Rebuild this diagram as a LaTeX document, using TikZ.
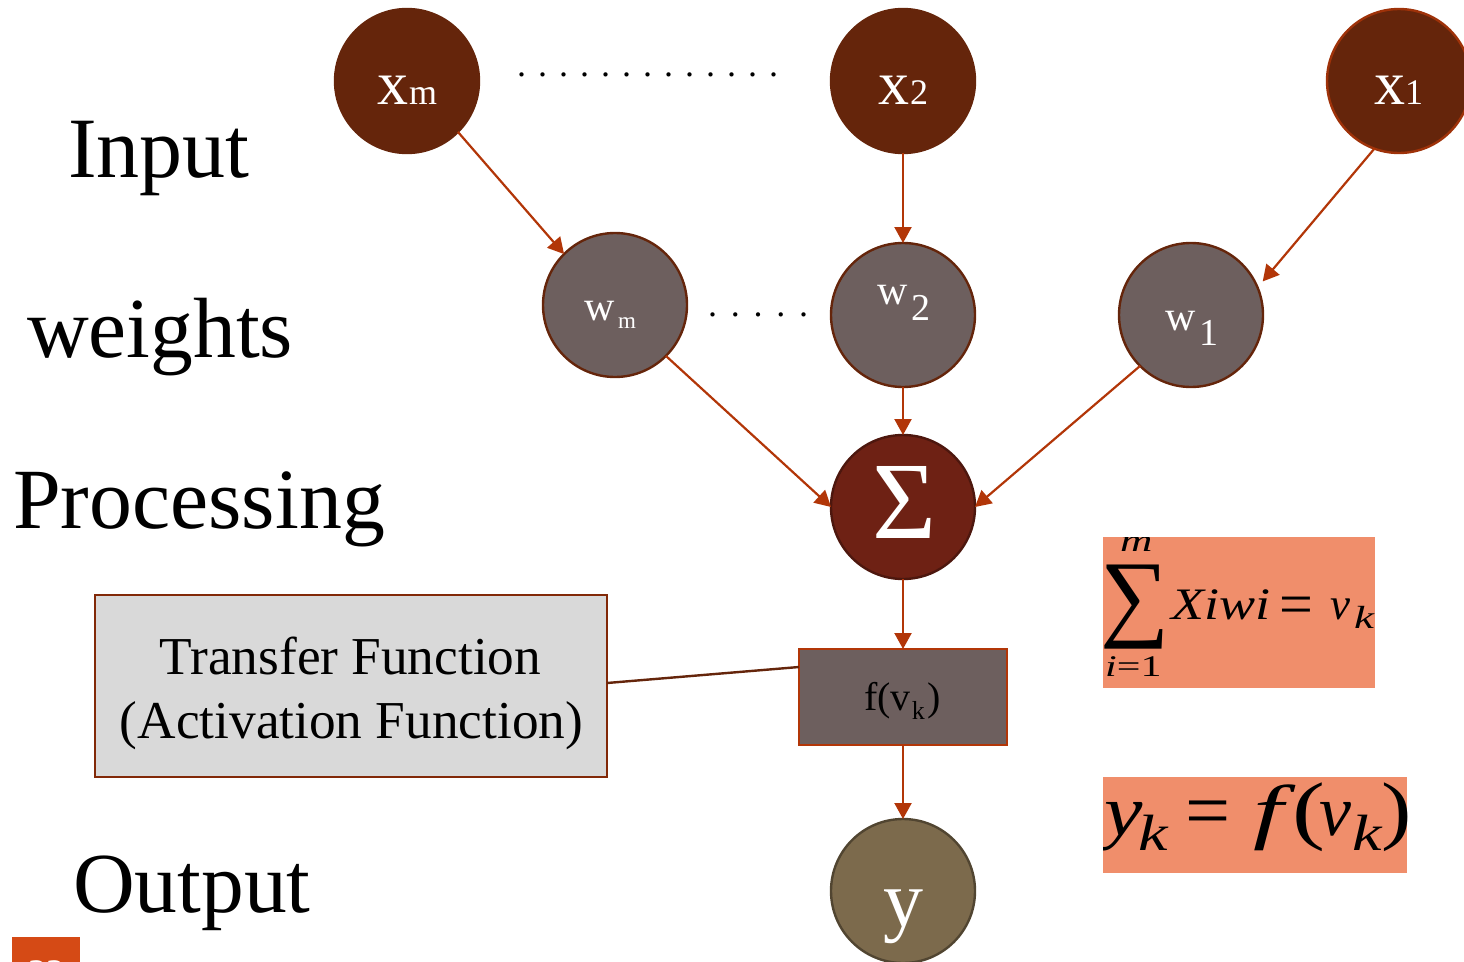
\documentclass[tikz,border=0pt]{standalone}
\usepackage{fontspec}
\usepackage{graphicx}
\setmainfont{Liberation Serif}
\usetikzlibrary{arrows.meta}
\definecolor{inbrown}{HTML}{65250B}
\definecolor{edgered}{HTML}{B23608}
\definecolor{wgray}{HTML}{6D5F5E}
\definecolor{sigmared}{HTML}{6E2114}
\definecolor{olive}{HTML}{7C6A4C}
\definecolor{eqbg}{HTML}{F08E6B}
\definecolor{tabbg}{HTML}{D54A15}
\newcommand{\fs}[1]{\fontsize{#1}{#1}\selectfont}
\newcommand{\wide}[2]{\scalebox{#1}[1]{#2}}
\tikzset{
  x=1pt,y=-1pt,
  circ/.style={circle,minimum size=144pt,inner sep=0pt,outer sep=0pt,line width=2.4pt},
  innode/.style={circ,fill=inbrown,draw=inbrown},
  wnode/.style={circ,fill=wgray,draw=inbrown},
  conn/.style={draw=edgered,line width=2.2pt,-{Triangle[length=16pt,width=17pt]}},
  caption/.style={anchor=base west,inner sep=0pt,text=black},
  wtext/.style={anchor=base west,inner sep=0pt,text=white},
  eqbox/.style={fill=eqbg,inner sep=0pt,outer sep=0pt,anchor=north west},
  eqtext/.style={anchor=base west,inner sep=0pt,text=black}
}
\begin{document}
\begin{tikzpicture}
\useasboundingbox (0,0) rectangle (1464,961);
\clip (0,0) rectangle (1464,961);
% circles
\node[innode] (xm) at (407,81) {};
\node[innode] (x2) at (903,81) {};
\node[innode,draw=edgered!75!inbrown] (x1) at (1399,81) {};
\node[wnode] (wm) at (615,305) {};
\node[wnode] (w2) at (903,315) {};
\node[wnode] (w1) at (1191,315) {};
\node[circ,fill=sigmared,draw=black!30!sigmared] (sum) at (903,507) {};
\node[circ,fill=olive,draw=black!35!olive] (y) at (903,891) {};
% boxes
\node[draw=edgered,fill=wgray,line width=2.4pt,minimum width=208pt,minimum height=96pt,inner sep=0pt,outer sep=0pt] (f) at (903,697) {};
\node[draw=black!20!edgered!70!inbrown,fill=black!15,line width=2.4pt,minimum width=512pt,minimum height=182pt,inner sep=0pt,outer sep=0pt] (tf) at (351,686) {};
% connectors
\draw[conn] (xm.-45) -- (wm.135);
\draw[conn] (x2.south) -- (w2.north);
\draw[conn] (x1.-110) -- ([xshift=7pt,yshift=2pt]w1.26);
\draw[conn] (wm.-45) -- (sum.west);
\draw[conn] (w2.south) -- (sum.north);
\draw[conn] (w1.225) -- (sum.east);
\draw[conn] (sum.south) -- (f.north);
\draw[conn] (f.south) -- (y.north);
\draw[draw=inbrown,line width=2.4pt] ([yshift=3pt]tf.east) -- ([yshift=30pt]f.west);
% captions
\node[caption,font=\fs{86}] (tinput) at (68,177) {Input};
\node[caption,font=\fs{85.5}] (tweights) at (27,357) {weights};
\node[caption,font=\fs{85.8}] (tproc) at (13,528) {Processing};
\node[caption,font=\fs{85.5}] (toutput) at (73,912) {Output};
% circle labels
\node[wtext,font=\fs{62}] (lxm) at (377,104) {x};
\node[wtext,font=\fs{36}] (lxmb) at (409,104) {m};
\node[wtext,font=\fs{62}] (lx2) at (878,104) {x};
\node[wtext,font=\fs{36}] (lx2b) at (910,104) {2};
\node[wtext,font=\fs{62}] (lx1) at (1374,104) {x};
\node[wtext,font=\fs{36}] (lx1b) at (1405,104) {1};
\node[wtext,font=\fs{42}] (lwm) at (584,320) {w};
\node[wtext,font=\fs{23}] (lwmb) at (618,328) {m};
\node[wtext,font=\fs{42}] (lw2) at (877,304) {w};
\node[wtext,font=\fs{38}] (lw2b) at (911,320) {2};
\node[wtext,font=\fs{42}] (lw1) at (1165,330) {w};
\node[wtext,font=\fs{38}] (lw1b) at (1199,345) {1};
\node[wtext,font=\fs{110}] (lsum) at (872,538) {Σ};
\node[wtext,font=\fs{80}] (ly) at (883,926) {y};
% dots
\node[caption,font=\fs{36}] (dots1) at (517,76) {.\kern12pt.\kern12pt.\kern12pt.\kern12pt.\kern12pt.\kern12pt.\kern12pt.\kern12pt.\kern12pt.\kern12pt.\kern12pt.\kern12pt.};
\node[caption,font=\fs{36}] (dots2) at (708,316) {.\kern13.7pt.\kern13.7pt.\kern13.7pt.\kern13.7pt.};
% box text
\node[anchor=base,inner sep=0pt,font=\fs{53.3}] (ttf1) at (350.5,674) {Transfer Function};
\node[anchor=base,inner sep=0pt,font=\fs{53.3}] (ttf2) at (351.5,738) {(Activation Function)};
\node[caption,font=\fs{40}] (lf) at (864,710) {f(v\kern1pt\raisebox{-9pt}{\fs{26}k}\kern3pt)};
% equations
\node[eqbox,minimum width=272pt,minimum height=151pt] (eq1) at (1103,537) {};
\node[eqbox,minimum width=304pt,minimum height=96pt] (eq2) at (1103,777) {};
\begin{scope}
\clip (1103,537) rectangle (1407,873);
\node[eqtext,font=\fs{32}\itshape] (em) at (1120,551) {\wide{1.4}{m}};
\node[eqtext,font=\fs{97}] (esum) at (1100,628) {∑};
\node[eqtext,font=\fs{30}] (ei) at (1105,676) {\wide{1.4}{\itshape i\upshape =1}};
\node[eqtext,font=\fs{45}\itshape] (ex) at (1171,619) {\wide{1.2}{Xiwi}};
\node[eqtext,font=\fs{60}] (ee) at (1279,624) {=};
\node[eqtext,font=\fs{45}\itshape] (ev) at (1330,619) {v};
\node[eqtext,font=\fs{32}\itshape] (ek) at (1354,628) {\wide{1.4}{k}};
\node[eqtext,font=\fs{72}\itshape] (e2y) at (1104,835) {\wide{1.2}{y}};
\node[eqtext,font=\fs{51}\itshape] (e2k) at (1138,850) {\wide{1.3}{k}};
\node[eqtext,font=\fs{80}] (e2e) at (1185,837) {=};
\node[eqtext,font=\fs{72}\itshape] (e2f) at (1253,835) {\wide{1.5}{f}};
\node[eqtext,font=\fs{76}] (e2p) at (1292,835) {\wide{1.3}{(}};
\node[eqtext,font=\fs{72}\itshape] (e2v) at (1319,835) {v};
\node[eqtext,font=\fs{51}\itshape] (e2k2) at (1352,850) {\wide{1.3}{k}};
\node[eqtext,font=\fs{76}] (e2q) at (1381,835) {\wide{1.2}{)}};
\end{scope}
% page tab
\node[fill=tabbg,inner sep=0pt,outer sep=0pt,minimum width=68pt,minimum height=30pt,anchor=north west] (tab) at (12,937) {};
\node[anchor=base,inner sep=0pt,text=white,font=\fs{36}\bfseries] (tabn) at (46,984) {22};
\end{tikzpicture}
\end{document}
